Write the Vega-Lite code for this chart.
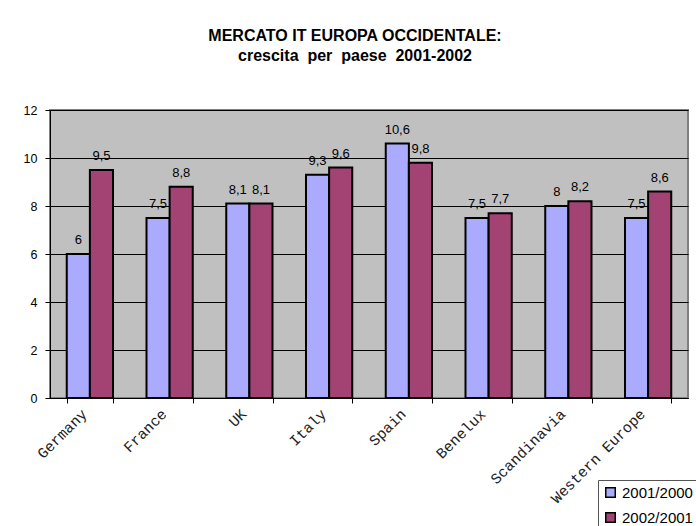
{
  "$schema": "https://vega.github.io/schema/vega-lite/v6.json",
  "autosize": "none",
  "width": 638,
  "height": 288,
  "padding": {"left": 50, "top": 110, "right": 8, "bottom": 128},
  "background": "white",
  "config": {
    "locale": {"number": {"decimal": ",", "thousands": ".", "grouping": [3], "currency": ["", " €"]}},
    "view": {"fill": "#c0c0c0", "stroke": "#808080", "strokeWidth": 2},
    "font": "Liberation Sans"
  },
  "title": {
    "text": ["MERCATO IT EUROPA OCCIDENTALE:", "crescita\u00a0 per\u00a0 paese\u00a0 2001-2002"],
    "font": "Liberation Sans",
    "fontSize": 16,
    "fontWeight": "bold",
    "color": "black",
    "anchor": "middle",
    "dx": -14,
    "offset": 40,
    "lineHeight": 20
  },
  "data": {
    "values": [
      {"country": "Germany", "series": "2001/2000", "value": 6},
      {"country": "Germany", "series": "2002/2001", "value": 9.5},
      {"country": "France", "series": "2001/2000", "value": 7.5},
      {"country": "France", "series": "2002/2001", "value": 8.8},
      {"country": "UK", "series": "2001/2000", "value": 8.1},
      {"country": "UK", "series": "2002/2001", "value": 8.1},
      {"country": "Italy", "series": "2001/2000", "value": 9.3},
      {"country": "Italy", "series": "2002/2001", "value": 9.6},
      {"country": "Spain", "series": "2001/2000", "value": 10.6},
      {"country": "Spain", "series": "2002/2001", "value": 9.8},
      {"country": "Benelux", "series": "2001/2000", "value": 7.5},
      {"country": "Benelux", "series": "2002/2001", "value": 7.7},
      {"country": "Scandinavia", "series": "2001/2000", "value": 8},
      {"country": "Scandinavia", "series": "2002/2001", "value": 8.2},
      {"country": "Western Europe", "series": "2001/2000", "value": 7.5},
      {"country": "Western Europe", "series": "2002/2001", "value": 8.6}
    ]
  },
  "encoding": {
    "x": {
      "field": "country",
      "type": "nominal",
      "sort": null,
      "scale": {"paddingInner": 0.42, "paddingOuter": 0.21},
      "axis": {
        "title": null,
        "labelAngle": -45,
        "labelAlign": "right",
        "labelBaseline": "middle",
        "labelFont": "Liberation Mono",
        "labelFontSize": 15,
        "labelColor": "#222222",
        "labelOffset": -6,
        "labelPadding": 8,
        "domainColor": "black",
        "domainWidth": 1,
        "tickColor": "black",
        "tickSize": 5,
        "tickBand": "extent",
        "grid": false
      }
    },
    "xOffset": {"field": "series", "type": "nominal"},
    "y": {
      "field": "value",
      "type": "quantitative",
      "scale": {"domain": [0, 12], "nice": false},
      "axis": {
        "title": null,
        "values": [0, 2, 4, 6, 8, 10, 12],
        "labelFont": "Liberation Sans",
        "labelFontSize": 12.5,
        "labelColor": "black",
        "labelPadding": 8,
        "domainColor": "black",
        "tickColor": "black",
        "tickSize": 5,
        "gridColor": "black",
        "gridWidth": 1,
        "gridOpacity": 1
      }
    }
  },
  "layer": [
    {
      "mark": {"type": "bar", "stroke": "black", "strokeWidth": 2},
      "encoding": {
        "color": {
          "field": "series",
          "type": "nominal",
          "scale": {"domain": ["2001/2000", "2002/2001"], "range": ["#aaaaff", "#a34374"]},
          "legend": {
            "title": null,
            "orient": "none",
            "legendX": 548,
            "legendY": 370,
            "symbolType": "square",
            "symbolSize": 90,
            "symbolStrokeColor": "black",
            "symbolStrokeWidth": 1.5,
            "labelFont": "Liberation Sans",
            "labelFontSize": 15,
            "labelColor": "black",
            "rowPadding": 8,
            "strokeColor": "#555555",
            "fillColor": "white",
            "padding": 5
          }
        }
      }
    },
    {
      "mark": {"type": "text", "baseline": "bottom", "dy": -7, "font": "Liberation Sans", "fontSize": 13, "color": "black"},
      "encoding": {
        "text": {"field": "value", "type": "quantitative", "format": ".3~r"}
      }
    }
  ]
}
